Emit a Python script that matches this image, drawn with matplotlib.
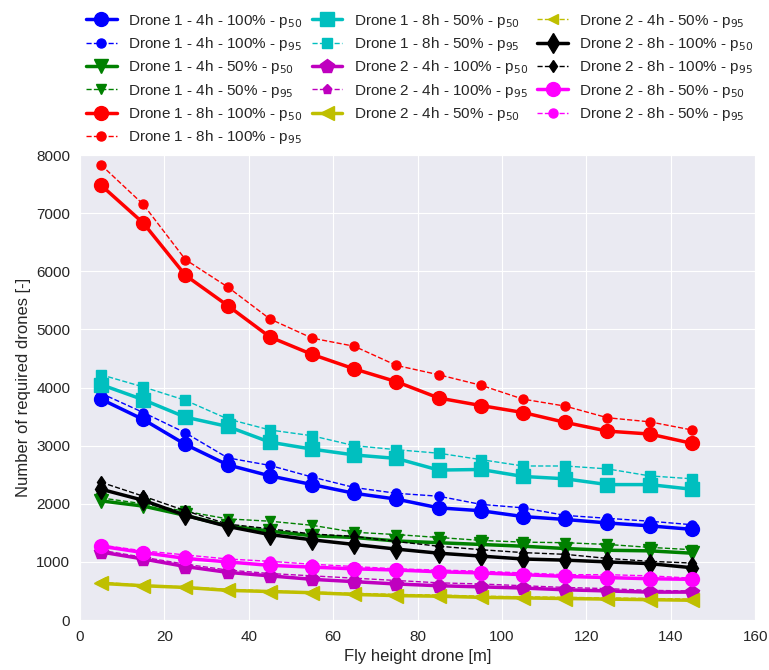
import numpy as np
import matplotlib
matplotlib.use('Agg')
import matplotlib.pyplot as plt
import seaborn as sns

sns.set_style('darkgrid')
plt.rcParams['font.family'] = ['Liberation Sans', 'DejaVu Sans']

heights = [5, 15, 25, 35, 45, 55, 65, 75, 85, 95, 105, 115, 125, 135, 145]

# Drone 1 - 4h - 100%
d1_4h_100_p50 = [3800, 3450, 3020, 2670, 2480, 2330, 2180, 2080, 1930, 1880, 1780, 1730, 1670, 1620, 1560]
d1_4h_100_p95 = [3900, 3570, 3220, 2790, 2660, 2460, 2280, 2180, 2130, 1990, 1930, 1800, 1750, 1700, 1640]
# Drone 1 - 4h - 50%
d1_4h_50_p50 = [2050, 1960, 1800, 1620, 1530, 1450, 1420, 1360, 1330, 1300, 1270, 1230, 1200, 1190, 1150]
d1_4h_50_p95 = [2100, 2000, 1870, 1740, 1700, 1630, 1510, 1470, 1420, 1370, 1340, 1330, 1300, 1250, 1210]
# Drone 1 - 8h - 100%
d1_8h_100_p50 = [7480, 6830, 5930, 5410, 4870, 4570, 4320, 4100, 3820, 3690, 3570, 3400, 3250, 3200, 3040]
d1_8h_100_p95 = [7830, 7150, 6200, 5730, 5180, 4850, 4710, 4380, 4220, 4040, 3800, 3680, 3480, 3410, 3270]
# Drone 1 - 8h - 50%
d1_8h_50_p50 = [4050, 3790, 3490, 3330, 3060, 2940, 2840, 2780, 2580, 2590, 2470, 2430, 2330, 2330, 2250]
d1_8h_50_p95 = [4220, 4010, 3780, 3460, 3270, 3170, 3000, 2930, 2870, 2760, 2650, 2650, 2600, 2480, 2430]
# Drone 2 - 4h - 100%
d2_4h_100_p50 = [1170, 1050, 920, 820, 760, 700, 660, 620, 590, 570, 550, 520, 500, 480, 480]
d2_4h_100_p95 = [1200, 1080, 960, 860, 800, 760, 720, 680, 640, 620, 590, 560, 540, 510, 500]
# Drone 2 - 4h - 50%
d2_4h_50_p50 = [630, 590, 560, 510, 490, 470, 440, 420, 410, 390, 380, 370, 360, 350, 340]
d2_4h_50_p95 = [650, 600, 570, 530, 500, 480, 460, 440, 430, 410, 400, 390, 380, 370, 360]
# Drone 2 - 8h - 100%
d2_8h_100_p50 = [2250, 2060, 1800, 1610, 1470, 1380, 1300, 1220, 1150, 1100, 1050, 1030, 1000, 970, 900]
d2_8h_100_p95 = [2370, 2130, 1880, 1650, 1570, 1480, 1440, 1350, 1270, 1210, 1160, 1130, 1060, 1010, 980]
# Drone 2 - 8h - 50%
d2_8h_50_p50 = [1270, 1160, 1060, 1000, 940, 910, 880, 860, 830, 810, 780, 750, 730, 710, 700]
d2_8h_50_p95 = [1290, 1190, 1120, 1050, 1010, 960, 920, 880, 860, 840, 810, 780, 780, 760, 720]

# (label, p50, p95, colour, marker)
series = [
    ('Drone 1 - 4h - 100%', d1_4h_100_p50, d1_4h_100_p95, 'b', 'o'),
    ('Drone 1 - 4h - 50%', d1_4h_50_p50, d1_4h_50_p95, 'g', 'v'),
    ('Drone 1 - 8h - 100%', d1_8h_100_p50, d1_8h_100_p95, 'r', 'o'),
    ('Drone 1 - 8h - 50%', d1_8h_50_p50, d1_8h_50_p95, 'c', 's'),
    ('Drone 2 - 4h - 100%', d2_4h_100_p50, d2_4h_100_p95, 'm', 'p'),
    ('Drone 2 - 4h - 50%', d2_4h_50_p50, d2_4h_50_p95, 'y', '<'),
    ('Drone 2 - 8h - 100%', d2_8h_100_p50, d2_8h_100_p95, 'k', 'd'),
    ('Drone 2 - 8h - 50%', d2_8h_50_p50, d2_8h_50_p95, '#ff00ff', 'o'),
]

fig = plt.figure(figsize=(7.69, 6.70), dpi=100)
ax = fig.add_axes([0.104, 0.0746, 0.878, 0.694])

for label, p50, p95, col, mk in series:
    ax.plot(heights, p50, color=col, marker=mk, ls='-', lw=2.5, ms=10,
            mec=col, label=label + ' - p$_{50}$')
    ax.plot(heights, p95, color=col, marker=mk, ls='--', lw=1.0, ms=6.5,
            mec=col, label=label + ' - p$_{95}$')

ax.set_xlim(0, 160)
ax.set_ylim(0, 8000)
ax.tick_params(labelsize=11)
ax.set_xlabel('Fly height drone [m]', fontsize=12)
ax.set_ylabel('Number of required drones [-]', fontsize=12)

# legend sits above the axes, no frame
fig.legend(*ax.get_legend_handles_labels(), loc='upper left', ncol=3,
           bbox_to_anchor=(0.094, 1.003), frameon=False, fontsize=11,
           numpoints=1, handlelength=2.0, columnspacing=0.6,
           labelspacing=0.35, handletextpad=0.75)

fig.savefig('out.png', dpi=100)
